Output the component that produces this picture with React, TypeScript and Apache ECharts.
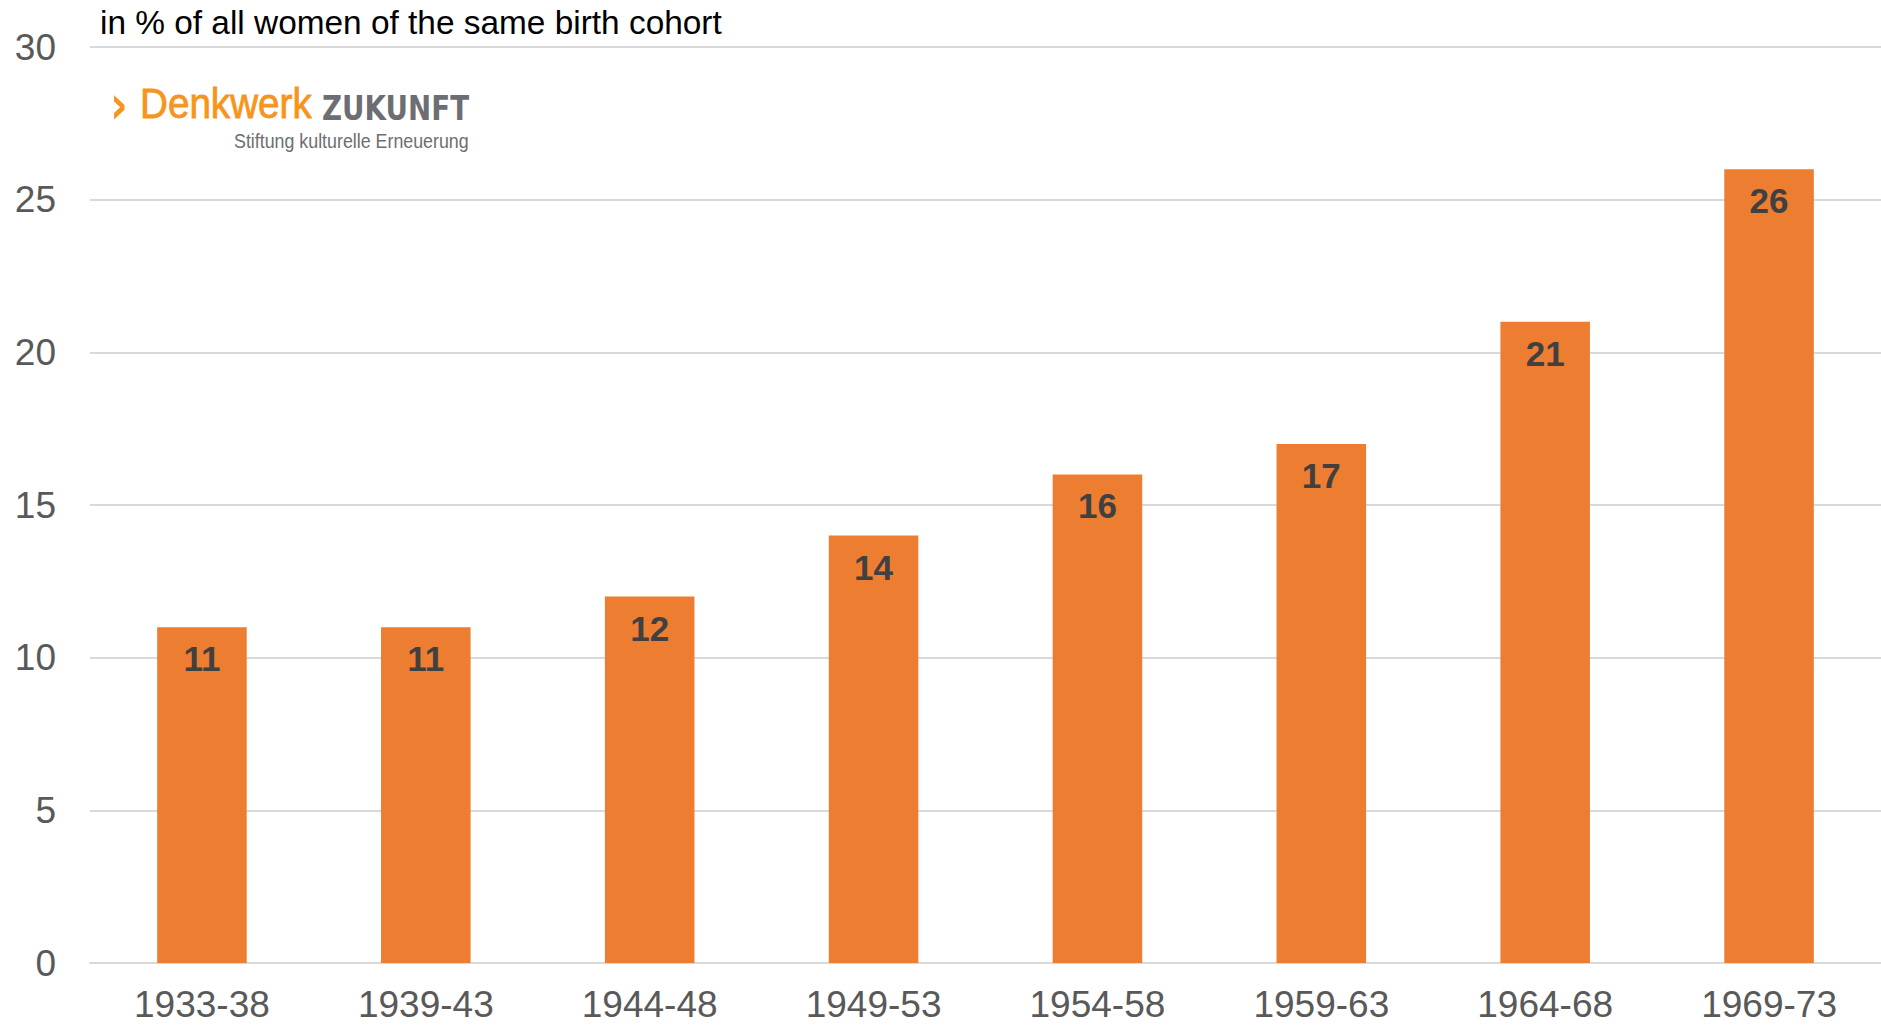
import React, { useEffect, useRef } from "react";
import * as echarts from "echarts";

const categories = ["1933-38", "1939-43", "1944-48", "1949-53", "1954-58", "1959-63", "1964-68", "1969-73"];
const values = [11, 11, 12, 14, 16, 17, 21, 26];
const subtitle = "in % of all women of the same birth cohort";

export default function App() {
  const ref = useRef<HTMLDivElement>(null);
  useEffect(() => {
    const chart = echarts.init(ref.current!, null, { renderer: "svg" });
    chart.setOption({
      animation: false,
      backgroundColor: "#ffffff",
      grid: { left: 90, right: 0, top: 47, bottom: 63, containLabel: false },
      xAxis: {
        type: "category",
        data: categories,
        axisLine: { show: true, lineStyle: { color: "#D9D9D9", width: 2 } },
        axisTick: { show: false },
        axisLabel: { color: "#595959", fontSize: 37, lineHeight: 37, fontFamily: "Liberation Sans, Arial, sans-serif", margin: 23 },
      },
      yAxis: {
        type: "value",
        min: 0,
        max: 30,
        interval: 5,
        axisLine: { show: false },
        axisTick: { show: false },
        splitLine: { lineStyle: { color: "#D9D9D9", width: 2 } },
        axisLabel: { color: "#595959", fontSize: 37, fontFamily: "Liberation Sans, Arial, sans-serif", margin: 34 },
      },
      series: [
        {
          type: "bar",
          data: values,
          barWidth: "40%",
          itemStyle: { color: "#ED7D31" },
          label: {
            show: true,
            position: "insideTop",
            distance: 14,
            color: "#404040",
            fontSize: 35,
            fontWeight: "bold",
            fontFamily: "Liberation Sans, Arial, sans-serif",
          },
        },
      ],
      graphic: [
        {
          type: "text",
          left: 100,
          top: 6,
          style: { text: subtitle, fill: "#000000", fontSize: 33.4, fontFamily: "Liberation Sans, Arial, sans-serif" },
        },
        {
          type: "text",
          x: 110,
          y: 78,
          scaleX: 0.8,
          style: { text: "›", fill: "#F7941D", fontSize: 54, fontWeight: "bold", fontFamily: "DejaVu Sans, sans-serif" },
        },
        {
          type: "text",
          x: 140,
          y: 82,
          scaleX: 0.92,
          style: { text: "Denkwerk", fill: "#F7941D", fontSize: 42, fontFamily: "Liberation Sans Narrow, Liberation Sans, Arial, sans-serif", stroke: "#F7941D", lineWidth: 0.8 },
        },
        {
          type: "text",
          x: 322,
          y: 92,
          scaleX: 0.84,
          style: { text: "ZUKUNFT", fill: "#6D6E71", fontSize: 33, fontWeight: "bold", fontFamily: "DejaVu Sans, sans-serif" },
        },
        {
          type: "text",
          x: 234,
          y: 131,
          scaleX: 0.9,
          style: { text: "Stiftung kulturelle Erneuerung", fill: "#6D6E71", fontSize: 19.8, fontFamily: "Liberation Sans Narrow, Liberation Sans, Arial, sans-serif" },
        },
      ],
    });
    return () => chart.dispose();
  }, []);
  return <div ref={ref} style={{ position: "absolute", left: 0, top: 0, width: 1881, height: 1026 }} />;
}
